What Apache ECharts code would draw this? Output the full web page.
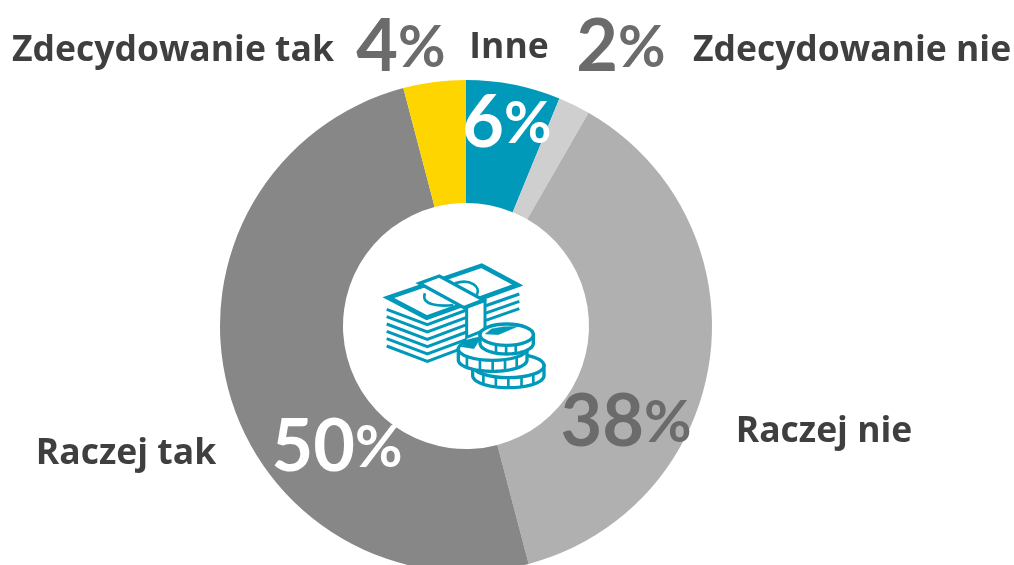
<!DOCTYPE html>
<html><head><meta charset="utf-8">
<style>html,body{margin:0;padding:0;background:#fff}#c{width:1014px;height:565px}</style>
<script src="https://cdn.jsdelivr.net/npm/echarts@6/dist/echarts.min.js"></script>
</head><body><div id="c"></div>
<script>
const categories = ['Inne','Zdecydowanie nie','Raczej nie','Raczej tak','Zdecydowanie tak'];
const values = [6.2,2.1,37.6,50,4.1];
const sliceColors = ['#0099BA','#CFCFCF','#B0B0B0','#878787','#FFD500'];
const percentColors = ['#ffffff','#6b6b6b','#6b6b6b','#ffffff','#6b6b6b'];
const percentPos = [[507,124],[621,48],[626,423],[337,448],[401,48]];
const namePos = [[509,48],[852,51],[824,432],[126,454],[173,51]];
const FONT = '"Open Sans", Lato, sans-serif';
const TEAL = '#0099BA';

function poly(points,fill,w){return {type:'polygon',shape:{points},style:{fill:fill||'#fff',stroke:TEAL,lineWidth:w,lineJoin:'miter'}};}
function line(points,w){return {type:'polyline',shape:{points},style:{fill:'none',stroke:TEAL,lineWidth:w,lineJoin:'miter'}};}
function curve(x1,y1,cpx1,cpy1,cpx2,cpy2,x2,y2,w){return {type:'bezierCurve',shape:{x1,y1,cpx1,cpy1,cpx2,cpy2,x2,y2},style:{fill:'none',stroke:TEAL,lineWidth:w}};}
function coin(cx,cy,rx,ry,h,ticks){
  const out=[], pts=[];
  for(let a=0;a<=180;a+=6){pts.push([cx+rx*Math.cos(a*Math.PI/180),cy+h+ry*Math.sin(a*Math.PI/180)]);}
  pts.push([cx-rx,cy],[cx+rx,cy]);
  out.push(poly(pts,'#fff',10));
  ticks.forEach(t=>{
    const x=cx+t*rx, y=cy+ry*Math.sqrt(1-t*t);
    out.push(line([[x,y],[x,y+h]],8));
  });
  out.push({type:'ellipse',shape:{cx,cy,rx,ry},style:{fill:'#fff',stroke:TEAL,lineWidth:10}});
  return out;
}
const icon=[];
[178,200,222,244,266,288].forEach(y=>{
  icon.push(line([[50,y],[172,y+46],[290,y+2]],9));
});
[172,194,216].forEach(y=>{
  icon.push(line([[345,y-4],[448,y-40]],9));
});
icon.push(poly([[55,143],[335,47],[443,105],[170,203]],'#fff',14));
icon.push(curve(165,130,150,165,210,170,250,165,8));
icon.push(curve(255,100,300,85,335,110,320,135,8));
icon.push(poly([[290,172],[345,152],[345,240],[290,262]],'#fff',9));
icon.push(poly([[148,100],[208,78],[340,150],[282,173]],'#fff',10));
icon.push(...coin(415,347,107,36,30,[-.7,-.35,0,.37,.7]));
icon.push(...coin(368,297,103,34,33,[-.75,-.37,0,.36,.7]));
icon.push(poly([[272,290],[300,270],[330,268],[312,296]],TEAL,1));
icon.push(...coin(410,254,80,32,26,[-.4,-.02,.34]));
icon.push(poly([[345,252],[365,236],[400,230],[445,229],[385,254]],TEAL,1));

const chart=echarts.init(document.getElementById('c'),null,{renderer:'canvas'});
chart.setOption({
  animation:false,
  backgroundColor:'#fff',
  series:[{
    type:'pie',
    center:[466,326],
    radius:[123,246],
    startAngle:90,
    clockwise:true,
    silent:true,
    itemStyle:{borderWidth:0},
    labelLine:{show:false},
    label:{show:true,position:'inside',
      formatter:p=>'{d|'+Math.round(p.value)+'}{p|%}',
      rich:{
        d:{fontFamily:'Lato, sans-serif',fontWeight:'bold',fontSize:72,lineHeight:72},
        p:{fontFamily:'Lato, sans-serif',fontWeight:'bold',fontSize:58,lineHeight:72}
      }},
    labelLayout:p=>({x:percentPos[p.dataIndex][0],y:percentPos[p.dataIndex][1],align:'center',verticalAlign:'middle'}),
    data:categories.map((name,i)=>({name,value:values[i],itemStyle:{color:sliceColors[i]},
      label:{rich:{d:{color:percentColors[i]},p:{color:percentColors[i]}}}}))
  }],
  graphic:[
    ...categories.map((name,i)=>({type:'text',x:namePos[i][0],y:namePos[i][1],z:10,
      style:{text:name,fill:'#3f3f3f',font:'bold 35.5px '+FONT,textAlign:'center',textVerticalAlign:'middle'}})),
    {type:'group',x:370,y:250,scaleX:1/3,scaleY:1/3,z:10,children:icon}
  ]
});
</script></body></html>
